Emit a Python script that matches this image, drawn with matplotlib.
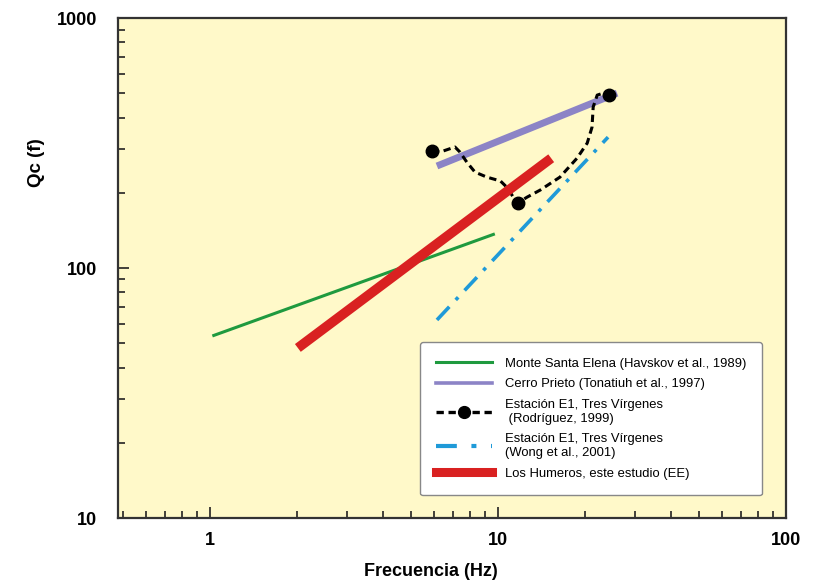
import matplotlib.pyplot as plt
from matplotlib.lines import Line2D
from matplotlib.ticker import LogLocator, FixedLocator, NullFormatter, FixedFormatter

plt.rcParams['font.family'] = ['Liberation Sans', 'DejaVu Sans']

# --- data (frequency in Hz, Qc) ---
santa_elena_f = [1.02, 9.75]
santa_elena_q = [53.5, 137]

cerro_prieto_f = [6.14, 25.9]
cerro_prieto_q = [256, 501]

tres_virgenes_f = [5.90, 6.29, 7.09, 7.38, 7.80, 8.32, 9.16, 10.2, 10.8, 11.3, 11.7,
                   12.6, 14.0, 16.4, 18.8, 20.4, 21.2, 21.4, 22.1, 23.2, 24.2]
tres_virgenes_q = [294, 291, 305, 291, 265, 242, 231, 223, 209, 192, 182,
                   192, 205, 231, 275, 316, 366, 441, 492, 501, 492]
tres_virgenes_marks = [0, 10, 20]

wong_f = [6.14, 24.1]
wong_q = [62, 334]

humeros_f = [2.02, 15.3]
humeros_q = [47.9, 275]

labels = ['Monte Santa Elena (Havskov et al., 1989)',
          'Cerro Prieto (Tonatiuh et al., 1997)',
          'Estación E1, Tres Vírgenes\n (Rodríguez, 1999)',
          'Estación E1, Tres Vírgenes\n(Wong et al., 2001)',
          'Los Humeros, este estudio (EE)']

GREEN = '#1f9a3f'
PURPLE = '#8c84c6'
BLUE = '#1f9ad8'
RED = '#d92121'

fig = plt.figure(figsize=(8.18, 5.84), dpi=100)
ax = fig.add_axes([0.1443, 0.113, 0.8167, 0.856])
ax.set_facecolor('#fff9c9')

ax.plot(santa_elena_f, santa_elena_q, color=GREEN, lw=2.2, solid_capstyle='butt')
ax.plot(cerro_prieto_f, cerro_prieto_q, color=PURPLE, lw=5, solid_capstyle='butt')
ax.plot(tres_virgenes_f, tres_virgenes_q, color='black', lw=2.2,
        linestyle=(0, (2.4, 1.5)), marker='o', markersize=9,
        markevery=tres_virgenes_marks)
ax.plot(wong_f, wong_q, color=BLUE, lw=2.6, linestyle=(0, (5, 2.6, 1, 2.6)))
ax.plot(humeros_f, humeros_q, color=RED, lw=7, solid_capstyle='butt')

ax.set_xscale('log')
ax.set_yscale('log')
ax.set_xlim(0.48, 100)
ax.set_ylim(10, 1000)

ax.xaxis.set_major_locator(FixedLocator([1, 10, 100]))
ax.xaxis.set_major_formatter(FixedFormatter(['1', '10', '100']))
ax.xaxis.set_minor_locator(LogLocator(base=10, subs=range(2, 10), numticks=20))
ax.xaxis.set_minor_formatter(NullFormatter())
ax.yaxis.set_major_locator(FixedLocator([10, 100, 1000]))
ax.yaxis.set_major_formatter(FixedFormatter(['10', '100', '1000']))
ax.yaxis.set_minor_locator(LogLocator(base=10, subs=range(2, 10), numticks=20))
ax.yaxis.set_minor_formatter(NullFormatter())

ax.tick_params(which='both', direction='in', top=False, right=False,
               color='#222222', width=1.2)
ax.tick_params(which='major', length=8, labelsize=13)
ax.tick_params(axis='x', which='major', pad=10)
ax.tick_params(axis='y', which='major', pad=15)
ax.tick_params(which='minor', length=5)
for lab in ax.get_xticklabels() + ax.get_yticklabels():
    lab.set_fontweight('bold')

for s in ax.spines.values():
    s.set_linewidth(1.6)
    s.set_color('#333333')

ax.set_xlabel('Frecuencia (Hz)', fontsize=13, fontweight='bold')
ax.xaxis.set_label_coords(0.468, -0.09)
ax.set_ylabel('Qc (f)', fontsize=13.5, fontweight='bold')
ax.yaxis.set_label_coords(-0.11, 0.71)

handles = [
    Line2D([], [], color=GREEN, lw=2.2),
    Line2D([], [], color=PURPLE, lw=2.6),
    Line2D([], [], color='black', lw=2.4, linestyle=(0, (2.2, 1.4)),
           marker='o', markersize=8.5),
    Line2D([], [], color=BLUE, lw=3, linestyle=(0, (5, 3.5, 1.2, 3.5))),
    Line2D([], [], color=RED, lw=6.5),
]
leg = ax.legend(handles, labels, loc='upper left', bbox_to_anchor=(0.452, 0.352),
                borderaxespad=0, fontsize=9.4, handlelength=4.3,
                handletextpad=1.0, labelspacing=0.65, borderpad=1.2,
                fancybox=True, framealpha=1, facecolor='white',
                edgecolor='#888888')
leg.get_frame().set_linewidth(1.0)

fig.savefig('out.png', dpi=100)
